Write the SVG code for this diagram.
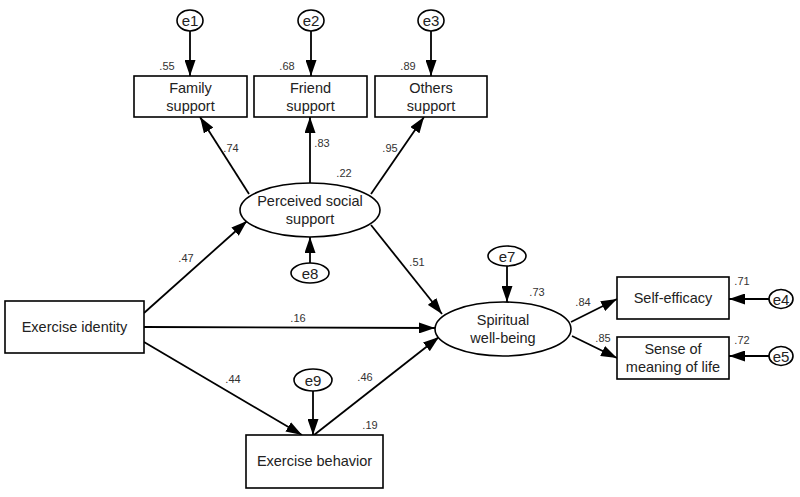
<svg xmlns="http://www.w3.org/2000/svg" width="800" height="497" viewBox="0 0 800 497">
<style>
.box{fill:#fff;stroke:#000;stroke-width:1.6}
.lat{fill:#fff;stroke:#000;stroke-width:1.6}
.t{font-family:"Liberation Sans",Arial,sans-serif;font-size:14.5px;fill:#222;text-anchor:middle}
.e{font-family:"Liberation Sans",Arial,sans-serif;font-size:15px;fill:#222;text-anchor:middle}
.n{font-family:"Liberation Sans",Arial,sans-serif;font-size:11px;fill:#333;text-anchor:middle}
.c line{stroke:#000;stroke-width:1.8;marker-end:url(#ah)}
</style>
<defs>
<marker id="ah" markerWidth="16" markerHeight="11" refX="16" refY="5.5" orient="auto" markerUnits="userSpaceOnUse">
<path d="M0,0 L16,5.5 L0,11 Z" fill="#000"/>
</marker>
</defs>
<rect width="800" height="497" fill="#fff"/>
<g class="c" id="connectors">
<line x1="190" y1="31" x2="190" y2="76"/>
<line x1="311" y1="31" x2="311" y2="76"/>
<line x1="431" y1="31" x2="431" y2="76"/>
<line x1="249" y1="194" x2="200" y2="117"/>
<line x1="310" y1="183" x2="310" y2="117"/>
<line x1="371" y1="194" x2="424" y2="117"/>
<line x1="310" y1="263" x2="310" y2="237"/>
<line x1="144" y1="313" x2="247" y2="221"/>
<line x1="371" y1="225" x2="442" y2="314"/>
<line x1="144" y1="327" x2="435" y2="328"/>
<line x1="144" y1="342" x2="302" y2="435"/>
<line x1="314" y1="435" x2="439" y2="337"/>
<line x1="313" y1="391" x2="313" y2="435"/>
<line x1="507" y1="266" x2="507" y2="302"/>
<line x1="571" y1="322" x2="617" y2="299"/>
<line x1="572" y1="336" x2="617" y2="358"/>
<line x1="769" y1="299" x2="729" y2="299"/>
<line x1="769" y1="356" x2="729" y2="356"/>
</g>
<g id="e1"><ellipse class="lat" cx="190" cy="20.5" rx="13" ry="10.5"/><text class="e" x="190" y="26">e1</text></g>
<g id="e2"><ellipse class="lat" cx="311" cy="20.5" rx="13" ry="10.5"/><text class="e" x="311" y="26">e2</text></g>
<g id="e3"><ellipse class="lat" cx="431" cy="20.5" rx="13" ry="10.5"/><text class="e" x="431" y="26">e3</text></g>
<g id="family"><rect class="box" x="134" y="76" width="113" height="41"/><text class="t" x="190.5" y="93">Family</text><text class="t" x="190.5" y="111">support</text></g>
<g id="friend"><rect class="box" x="254" y="76" width="113" height="41"/><text class="t" x="310.5" y="93">Friend</text><text class="t" x="310.5" y="111">support</text></g>
<g id="others"><rect class="box" x="375" y="76" width="112" height="41"/><text class="t" x="431" y="93">Others</text><text class="t" x="431" y="111">support</text></g>
<g id="pss"><ellipse class="lat" cx="310" cy="210" rx="70" ry="27"/><text class="t" x="310" y="206">Perceived social</text><text class="t" x="310" y="224">support</text></g>
<g id="e8"><ellipse class="lat" cx="310" cy="273" rx="19" ry="10"/><text class="e" x="310" y="278.5">e8</text></g>
<g id="identity"><rect class="box" x="5" y="301" width="139" height="52"/><text class="t" x="74.5" y="332">Exercise identity</text></g>
<g id="behavior"><rect class="box" x="246" y="435" width="137" height="53"/><text class="t" x="314.5" y="466">Exercise behavior</text></g>
<g id="e9"><ellipse class="lat" cx="313" cy="380" rx="19" ry="11"/><text class="e" x="313" y="385.5">e9</text></g>
<g id="swb"><ellipse class="lat" cx="503" cy="329" rx="68" ry="27"/><text class="t" x="503" y="325">Spiritual</text><text class="t" x="503" y="343">well-being</text></g>
<g id="e7"><ellipse class="lat" cx="507" cy="256" rx="19" ry="10"/><text class="e" x="507" y="261.5">e7</text></g>
<g id="selfeff"><rect class="box" x="617" y="277" width="112" height="42"/><text class="t" x="673" y="303">Self-efficacy</text></g>
<g id="meaning"><rect class="box" x="617" y="337" width="112" height="42"/><text class="t" x="673" y="354">Sense of</text><text class="t" x="673" y="372">meaning of life</text></g>
<g id="e4"><ellipse class="lat" cx="781" cy="299" rx="12" ry="9.5"/><text class="e" x="781" y="304.5">e4</text></g>
<g id="e5"><ellipse class="lat" cx="781" cy="356" rx="12" ry="9.5"/><text class="e" x="781" y="361.5">e5</text></g>
<g id="labels">
<text class="n" x="167" y="70">.55</text>
<text class="n" x="287" y="70">.68</text>
<text class="n" x="408" y="70">.89</text>
<text class="n" x="231" y="152">.74</text>
<text class="n" x="322" y="147">.83</text>
<text class="n" x="344" y="177">.22</text>
<text class="n" x="390" y="152">.95</text>
<text class="n" x="417" y="266">.51</text>
<text class="n" x="186" y="262">.47</text>
<text class="n" x="298" y="322">.16</text>
<text class="n" x="233" y="383">.44</text>
<text class="n" x="365" y="381">.46</text>
<text class="n" x="370" y="429">.19</text>
<text class="n" x="537" y="296">.73</text>
<text class="n" x="583" y="306">.84</text>
<text class="n" x="603" y="342">.85</text>
<text class="n" x="742" y="285">.71</text>
<text class="n" x="742" y="344">.72</text>
</g>
</svg>
